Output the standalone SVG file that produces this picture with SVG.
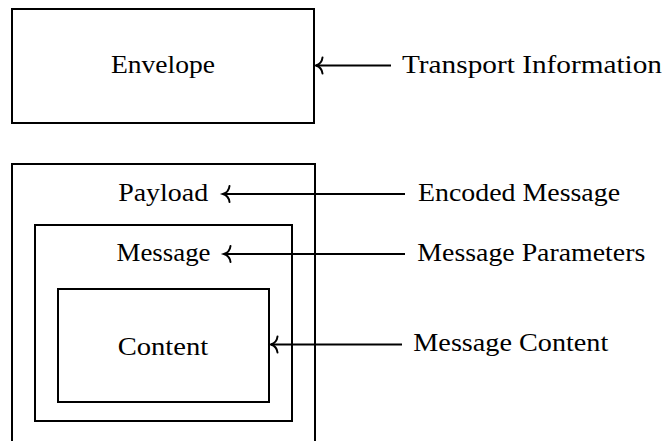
<svg xmlns="http://www.w3.org/2000/svg" width="664" height="441" viewBox="0 0 664 441">
  <style>
    .box { fill: none; stroke: #000; stroke-width: 2; }
    .lbl { font-family: "Liberation Serif", "Times New Roman", serif; font-size: 26px; fill: #000; }
    .mid { text-anchor: middle; }
    .start { text-anchor: start; }
    .conn { fill: none; stroke: #000; stroke-width: 2; marker-end: url(#to); }
  </style>
  <defs>
    <marker id="to" markerUnits="userSpaceOnUse" viewBox="-10 -10 12 20" refX="0" refY="0" markerWidth="12" markerHeight="20" orient="auto" overflow="visible">
      <path d="M -6.5,-8 C -6,-3.5 -3,-1 0,0 C -3,1 -6,3.5 -6.5,8" fill="none" stroke="#000" stroke-width="2" stroke-linecap="round"/>
    </marker>
  </defs>

  <g id="envelope">
    <rect class="box" x="12" y="9" width="302" height="114"/>
    <text class="lbl mid" x="163" y="72.5" textLength="104" lengthAdjust="spacingAndGlyphs">Envelope</text>
  </g>

  <g id="payload">
    <rect class="box" x="12" y="164" width="303" height="300"/>
    <text class="lbl mid" x="163.2" y="200.5" textLength="90" lengthAdjust="spacingAndGlyphs">Payload</text>
  </g>

  <g id="message">
    <rect class="box" x="35" y="225" width="257" height="196"/>
    <text class="lbl mid" x="163.5" y="260.5" textLength="94" lengthAdjust="spacingAndGlyphs">Message</text>
  </g>

  <g id="content">
    <rect class="box" x="58" y="289" width="211" height="113"/>
    <text class="lbl mid" x="163" y="354.7" textLength="90.6" lengthAdjust="spacingAndGlyphs">Content</text>
  </g>

  <g id="transport-information">
    <text class="lbl start" x="402" y="72.5" textLength="260" lengthAdjust="spacingAndGlyphs">Transport Information</text>
  </g>
  <g id="encoded-message">
    <text class="lbl start" x="418" y="200.5" textLength="202" lengthAdjust="spacingAndGlyphs">Encoded Message</text>
  </g>
  <g id="message-parameters">
    <text class="lbl start" x="417.3" y="260.5" textLength="228" lengthAdjust="spacingAndGlyphs">Message Parameters</text>
  </g>
  <g id="message-content">
    <text class="lbl start" x="413.3" y="350.6" textLength="195" lengthAdjust="spacingAndGlyphs">Message Content</text>
  </g>

  <g id="connectors">
    <line class="conn" x1="391" y1="65.5" x2="316" y2="65.5"/>
    <line class="conn" x1="405" y1="194" x2="223" y2="194"/>
    <line class="conn" x1="405" y1="254" x2="224" y2="254"/>
    <line class="conn" x1="402" y1="344.5" x2="271" y2="344.5"/>
  </g>
</svg>
